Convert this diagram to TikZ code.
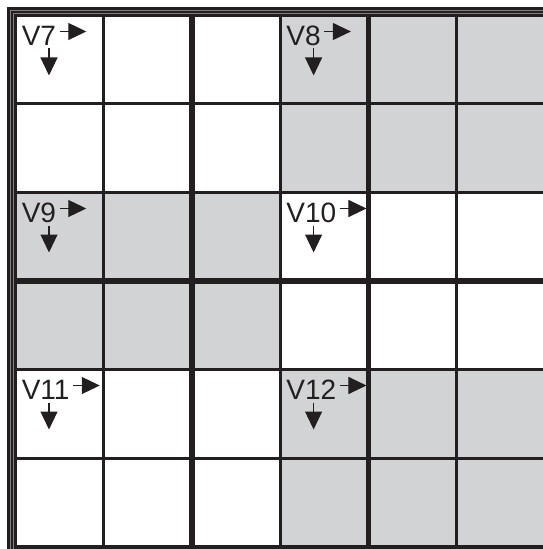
\documentclass[tikz,border=0pt]{standalone}
\usepackage{fontspec}
\setmainfont{Liberation Sans}
\usetikzlibrary{arrows.meta,calc}
\definecolor{ink}{RGB}{35,31,32}
\definecolor{cellgray}{RGB}{209,211,212}
\tikzset{
  gridline/.style={draw=ink, line width=2.25pt},
  heavyline/.style={draw=ink, line width=3.9pt},
  pointer/.style={draw=ink, line width=0.8pt, -{Triangle[length=13.5pt,width=12.75pt]}},
  cellname/.style={inner sep=0pt, anchor=base west, text=ink, font=\fontsize{21}{25}\selectfont}
}
\begin{document}
\begin{tikzpicture}[x=0.75pt, y=-0.75pt]
  \useasboundingbox (0,0) rectangle (542,549);
  % shaded blocks
  \foreach \c/\r in {3/0, 0/2, 3/4}
    \fill[cellgray] ({15.5+88.2*\c},{15.5+88.5*\r}) rectangle ++(264.6,177);
  % grid
  \foreach \i in {1,3,5}
    \draw[gridline] ({15.5+88.2*\i},15.5) -- ++(0,531);
  \foreach \i in {2,4}
    \draw[heavyline] ({15.5+88.2*\i},15.5) -- ++(0,531);
  \foreach \j in {1,2,4,5}
    \draw[gridline] (15.5,{15.5+88.5*\j}) -- ++(529.2,0);
  \draw[heavyline, line width=4.5pt] (15.5,281) -- ++(529.2,0);
  % frame
  \draw[ink, line width=7pt] (12,12) rectangle (548.7,550);
  \draw[gray, line width=0.6pt] (10.3,560) |- (560,10.3);
  \draw[gray, line width=0.6pt] (13.6,560) |- (560,13.6);
  % cell names with their two pointers
  \foreach \n/\c/\r in {7/0/0, 8/3/0, 9/0/2, 10/3/2, 11/0/4, 12/3/4} {
    \node[cellname] (v\n) at ({21.5+88.2*\c},{45.5+88.5*\r}) {V\n};
    \coordinate (e\n) at ($(v\n.base east)+(3.5,-14)$);
    \coordinate (f\n) at ($(e\n)+(26.5,0)$);
    \coordinate (s\n) at ($(v\n.base west)+(27.5,3)$);
    \coordinate (t\n) at ($(s\n)+(0,27)$);
    \draw[pointer] (e\n) -- (f\n);
    \draw[pointer] (s\n) -- (t\n);
  }
\end{tikzpicture}
\end{document}
